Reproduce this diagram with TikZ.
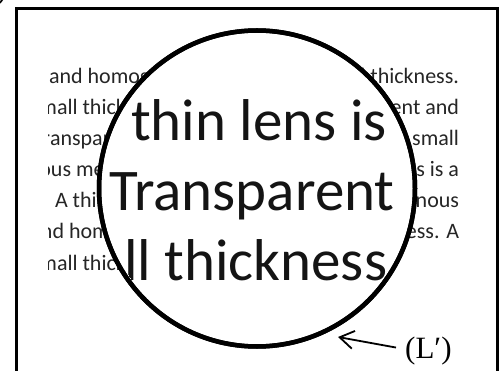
\documentclass[tikz,border=0pt]{standalone}
\usepackage{fontspec}
\setmainfont{Carlito}
\newfontfamily\timesf{Liberation Serif}
\usetikzlibrary{arrows.meta}
\begin{document}
\begin{tikzpicture}[x=1pt,y=-1pt,
  bg/.style={font=\fontsize{22}{22}\selectfont, text=black!85, inner sep=0pt, outer sep=0pt},
  bgl/.style={bg, anchor=base west},
  bgr/.style={bg, anchor=base east},
  big/.style={font=\fontsize{59}{59}\selectfont, text=black!92, inner sep=0pt, anchor=base west},
  lensring/.style={circle, draw=black, line width=4.5pt, inner sep=0pt, outer sep=0pt, minimum size=316pt},
  framebox/.style={draw=black, line width=3pt, line join=miter},
  pointer/.style={draw=black, line width=1.8pt, -{Straight Barb[length=14pt,width=18pt]}},
  lbl/.style={font=\timesf\fontsize{31}{31}\selectfont, inner sep=0pt, anchor=base west}]
\useasboundingbox (0,0) rectangle (503,371);
\fill[white] (0,0) rectangle (503,371);
% background page text
\begin{scope}
\clip (48,40) rectangle (460,300);
\node[bgl] (a1) at (49,84) {and homoge};
\node[bgr] (b1) at (459,84) {all thickness.};
\node[bgl] (a2) at (57,115) {\llap{sm}all thick};
\node[bgr] (b2) at (459,115) {ent and};
\node[bgl] (a3) at (50,146) {\llap{tr}anspar};
\node[bgr] (b3) at (459,146) {small};
\node[bgl] (a4) at (51,177) {\llap{o}us med};
\node[bgr] (b4) at (459,177) {lens is a};
\node[bgl] (a5) at (55,208) {A thin};
\node[bgr] (b5) at (459,208) {genous};
\node[bgl] (a6) at (41,239) {\llap{a}nd hom};
\node[bgr] (b6) at (459,239) {ness. A};
\node[bgl] (a7) at (57,270) {\llap{sm}all thick};
\end{scope}
% lens
\node[lensring, fill=white] (lens) at (257,188.5) {};
\begin{scope}
\clip (257,188.5) circle (155pt);
\node[big] (t1) at (131,141) {thin lens is};
\node[big] (t2) at (109,211) {Transparent};
\node[big] (t3) at (124,280) {ll thickness};
\end{scope}
\node[lensring] (ring) at (257,188.5) {};
% frame
\draw[framebox] (16,380) -- (16,9) -- (497,9) -- (497,380);
% corner fragment
\node[lbl] (frag) at (-4,0) {)};
% label and pointer
\node[lbl] (Lp) at (405,358) {(L′)};
\coordinate (tip) at (338,337);
\draw[pointer] ([xshift=-9pt,yshift=3pt]Lp.west) -- (tip);
\end{tikzpicture}
\end{document}
